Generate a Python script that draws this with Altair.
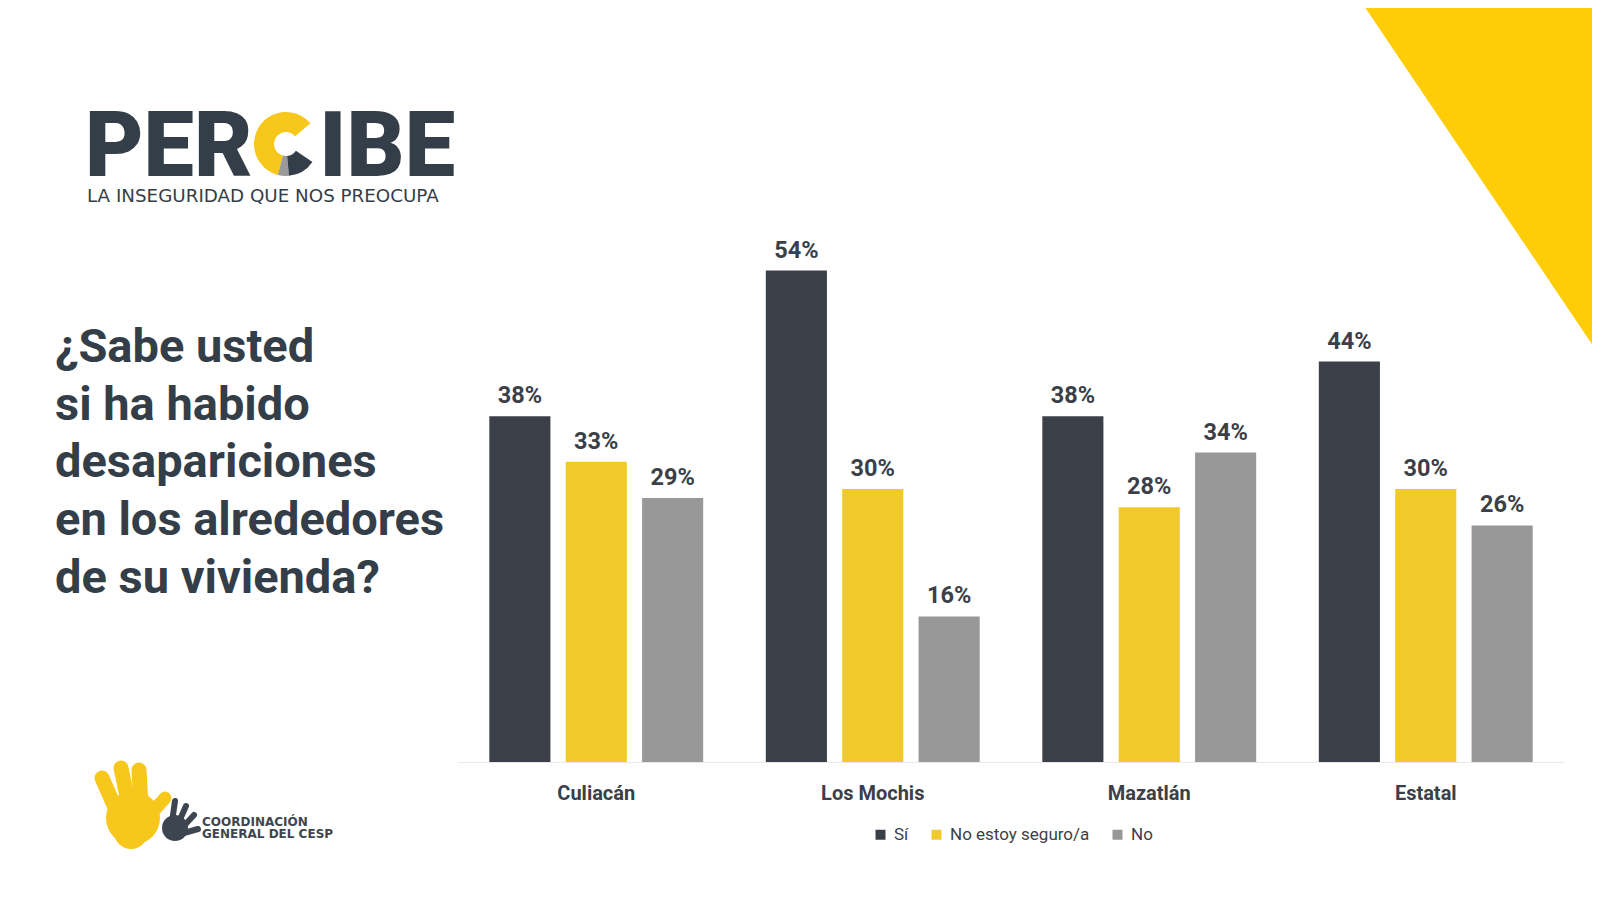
import altair as alt
import pandas as pd

# ---------------- data ----------------
cities = ["Culiacán", "Los Mochis", "Mazatlán", "Estatal"]
series = ["Sí", "No estoy seguro/a", "No"]
si_vals = [38, 54, 38, 44]
unsure_vals = [33, 30, 28, 30]
no_vals = [29, 16, 34, 26]
colors = ["#3b3f48", "#efca2a", "#989898"]

title_lines = ["¿Sabe usted", "si ha habido", "desapariciones",
               "en los alrededores", "de su vivienda?"]
logo_sub = "LA INSEGURIDAD QUE NOS PREOCUPA"
org_lines = ["COORDINACIÓN", "GENERAL DEL CESP"]

rows = []
for i, c in enumerate(cities):
    for s, vals in zip(series, [si_vals, unsure_vals, no_vals]):
        rows.append({"ciudad": c, "serie": s, "valor": vals[i],
                     "etiqueta": f"{vals[i]}%"})
df = pd.DataFrame(rows)

# ---------------- layout ----------------
W, H = 1106, 546
OX, OY = 458, 216   # page position of plot origin
DARK = "#333e48"
TEXT = "#3b3f48"
LOGO_Y = "#f7c71c"


def px(x):
    return x - OX


def py(y):
    return y - OY


one = pd.DataFrame({"k": [0]})


def deco():
    return alt.Chart(one)


base = alt.Chart(df).encode(
    x=alt.X("ciudad:N", sort=cities,
            scale=alt.Scale(paddingInner=0, paddingOuter=0),
            axis=alt.Axis(title=None, labelAngle=0, ticks=False, domain=True,
                          domainColor="#e9e9e9", domainWidth=1,
                          labelFont="Roboto", labelFontSize=20,
                          labelFontWeight="bold", labelColor=TEXT,
                          labelPadding=21, grid=False)),
    xOffset=alt.XOffset("serie:N", sort=series,
                        scale=alt.Scale(paddingInner=0.2, paddingOuter=0.41)),
    y=alt.Y("valor:Q", scale=alt.Scale(domain=[0, 60], nice=False), axis=None),
)

bars = base.mark_bar().encode(
    color=alt.Color("serie:N", sort=series,
                    scale=alt.Scale(domain=series, range=colors),
                    legend=alt.Legend(title=None, orient="none", legendX=414,
                                      legendY=610, direction="horizontal",
                                      symbolType="square", symbolSize=100,
                                      symbolStrokeWidth=0, labelFont="Roboto",
                                      labelFontSize=17, labelColor=TEXT,
                                      labelOffset=5, columnPadding=19,
                                      padding=0))
)

labels = base.mark_text(baseline="alphabetic", dy=-13, font="Roboto",
                        fontSize=23.5, fontWeight="bold", color=TEXT).encode(
    text="etiqueta:N")

layers = []

# yellow corner triangle
tri = deco().mark_point(shape="M -0.348 -1 L 1 -1 L 1 1 Z", filled=True,
                        size=356 * 356, color="#ffcd05", opacity=1,
                        strokeWidth=0).encode(
    x=alt.value(px(1600 - 178)), y=alt.value(py(178)))
layers.append(tri)

layers += [bars, labels]

# question title
layers.append(deco().mark_text(text=title_lines, align="left",
                               baseline="alphabetic", lineHeight=57.7,
                               font="Roboto", fontSize=47, fontWeight="bold",
                               color=DARK).encode(
    x=alt.value(px(55)), y=alt.value(py(362))))

# logo PERCIBE
layers.append(deco().mark_text(text="PER", align="left", baseline="alphabetic",
                               font="Roboto", fontSize=90, fontWeight=900,
                               color=DARK).encode(
    x=alt.value(px(85)), y=alt.value(py(176))))
layers.append(deco().mark_text(text="IBE", align="right", baseline="alphabetic",
                               font="Roboto", fontSize=90, fontWeight=900,
                               color=DARK).encode(
    x=alt.value(px(455)), y=alt.value(py(176))))
for t1, t2, col in [(3.40, 7.15, LOGO_Y), (3.05, 3.40, "#9a9a9a"),
                    (2.17, 3.05, DARK)]:
    layers.append(deco().mark_arc(radius=32, radius2=12, theta=t1, theta2=t2,
                                  color=col).encode(
        x=alt.value(px(286)), y=alt.value(py(144))))
layers.append(deco().mark_text(text=logo_sub, align="left",
                               baseline="alphabetic", font="DejaVu Sans",
                               fontSize=18.3, color=DARK).encode(
    x=alt.value(px(87)), y=alt.value(py(202))))

# bottom-left organisation logo (hands)
yellow_strokes = [((117, 812), (102, 778), 15), ((129, 806), (121, 768), 15),
                  ((141, 806), (139, 770), 15), ((150, 815), (165, 798), 13)]
for (x1, y1), (x2, y2), w in yellow_strokes:
    layers.append(deco().mark_rule(strokeWidth=w, strokeCap="round",
                                   color=LOGO_Y).encode(
        x=alt.value(px(x1)), y=alt.value(py(y1)),
        x2=alt.value(px(x2)), y2=alt.value(py(y2))))
for (cx, cy), d in [((133, 818), 54), ((131, 832), 34)]:
    layers.append(deco().mark_circle(size=d * d, color=LOGO_Y, opacity=1).encode(
        x=alt.value(px(cx)), y=alt.value(py(cy))))
dark_strokes = [((172, 822), (175, 801), 6), ((178, 824), (186, 806), 6),
                ((182, 828), (194, 815), 6), ((184, 833), (198, 829), 6)]
for (x1, y1), (x2, y2), w in dark_strokes:
    layers.append(deco().mark_rule(strokeWidth=w, strokeCap="round",
                                   color="#3d4650").encode(
        x=alt.value(px(x1)), y=alt.value(py(y1)),
        x2=alt.value(px(x2)), y2=alt.value(py(y2))))
layers.append(deco().mark_circle(size=26 * 26, color="#3d4650", opacity=1).encode(
    x=alt.value(px(175)), y=alt.value(py(828))))
layers.append(deco().mark_text(text=org_lines, align="left",
                               baseline="alphabetic", lineHeight=11.5,
                               font="DejaVu Sans", fontSize=12,
                               fontWeight="bold", color="#3d4650").encode(
    x=alt.value(px(202)), y=alt.value(py(826))))

chart = alt.layer(*layers).properties(
    width=W, height=H,
    padding={"left": 450, "top": 208, "right": 28, "bottom": 130},
    autosize=alt.AutoSizeParams(type="none"),
    background="#ffffff",
).configure_view(stroke=None)

chart.save("out.html", embed_options={"renderer": "svg", "actions": False})
